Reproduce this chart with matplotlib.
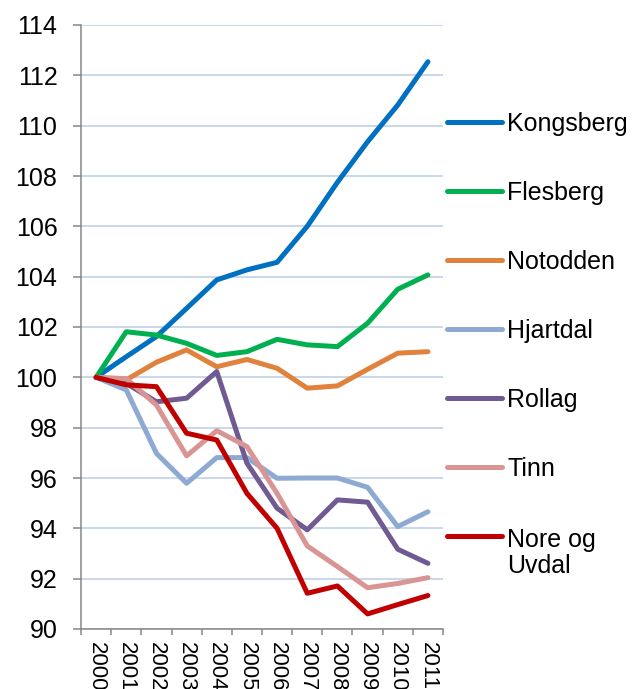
import matplotlib.pyplot as plt
from matplotlib.lines import Line2D

plt.rcParams['font.family'] = ['Liberation Sans', 'DejaVu Sans']

years = ["2000", "2001", "2002", "2003", "2004", "2005",
         "2006", "2007", "2008", "2009", "2010", "2011"]
names = ["Kongsberg", "Flesberg", "Notodden", "Hjartdal", "Rollag", "Tinn",
         "Nore og\nUvdal"]
kongsberg = [100, 100.82, 101.62, 102.74, 103.87, 104.27, 104.57, 106.0,
             107.75, 109.36, 110.82, 112.54]
flesberg = [100, 101.81, 101.68, 101.35, 100.87, 101.02, 101.51, 101.29,
            101.22, 102.15, 103.5, 104.07]
notodden = [100, 99.9, 100.6, 101.09, 100.42, 100.71, 100.36, 99.57, 99.66,
            100.32, 100.96, 101.02]
hjartdal = [100, 99.5, 96.98, 95.79, 96.81, 96.81, 95.99, 96.0, 96.0, 95.63,
            94.07, 94.66]
rollag = [100, 99.76, 99.03, 99.17, 100.23, 96.59, 94.8, 93.94, 95.13, 95.04,
          93.17, 92.61]
tinn = [100, 99.95, 98.9, 96.88, 97.88, 97.25, 95.39, 93.3, 92.48, 91.64,
        91.81, 92.04]
nore = [100, 99.7, 99.63, 97.78, 97.51, 95.39, 94.0, 91.42, 91.71, 90.6,
        90.97, 91.33]
series = [kongsberg, flesberg, notodden, hjartdal, rollag, tinn, nore]
colors = ["#0070c0", "#00b050", "#e0823c", "#8eaad2", "#6f5a91", "#d99594",
          "#c00000"]

fig = plt.figure(figsize=(6.36, 6.89), dpi=100)
ax = fig.add_axes([81 / 636, 1 - 629 / 689, 362 / 636, 604 / 689])

x = range(len(years))
for vals, col in zip(series, colors):
    ax.plot(x, vals, color=col, lw=3.6, solid_capstyle='round',
            solid_joinstyle='round')

ax.set_xlim(-0.5, len(years) - 0.5)
ax.set_ylim(90, 114)
ax.set_yticks(range(90, 115, 2))
ax.yaxis.grid(True, color="#b9cde5", lw=1.1)
ax.set_axisbelow(True)

ax.set_xticks(list(x))
ax.set_xticklabels(years, rotation=270, fontsize=16)
ax.set_xticks([i - 0.5 for i in range(len(years) + 1)], minor=True)
ax.tick_params(axis='x', which='major', length=0, pad=9)
ax.tick_params(axis='x', which='minor', length=4, width=1.1, color="#868686")
ax.tick_params(axis='y', length=6, width=1.1, color="#868686", pad=11,
               labelsize=18)

for s in ["top", "right"]:
    ax.spines[s].set_visible(False)
for s in ["left", "bottom"]:
    ax.spines[s].set_color("#868686")
    ax.spines[s].set_linewidth(1.1)

# legend drawn by hand so the two-line label sits like the original
for i, (name, col) in enumerate(zip(names, colors)):
    yc = 122 + i * 69
    extra = 28 * name.count("\n")
    fig.add_artist(Line2D([447 / 636, 502 / 636], [1 - yc / 689] * 2,
                          color=col, lw=3.6, solid_capstyle='round',
                          transform=fig.transFigure))
    fig.text(507 / 636, 1 - (yc + 9 + extra) / 689, name, fontsize=18,
             va='baseline', ha='left', linespacing=1.1)

fig.savefig("out.png", dpi=100)
